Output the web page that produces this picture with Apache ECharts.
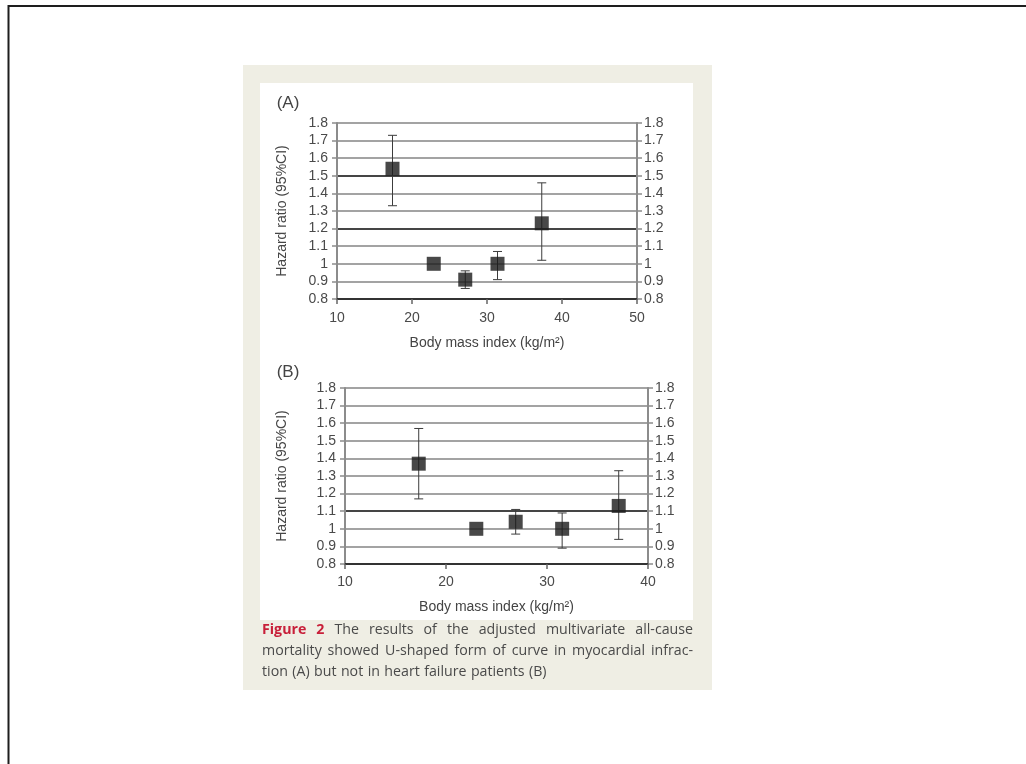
<!DOCTYPE html>
<html><head><meta charset="utf-8">
<script src="https://cdn.jsdelivr.net/npm/echarts@6/dist/echarts.min.js"></script>
<style>html,body{margin:0;padding:0;background:#fff}#c{width:1026px;height:764px}</style>
</head><body><div id="c"></div>
<script>
// ---- data ----
const xTicksA = [10, 50];           // min / max of BMI axis, panel A
const xTicksB = [10, 40];           // min / max of BMI axis, panel B
const yRange = [0.8, 1.8];          // hazard ratio axis
const bmiA = [17.4, 22.9, 27.1, 31.4, 37.3];
const hrA  = [1.54, 1.00, 0.91, 1.00, 1.23];
const loA  = [1.33, 1.00, 0.86, 0.91, 1.02];
const hiA  = [1.73, 1.00, 0.96, 1.07, 1.46];
const bmiB = [17.3, 23.0, 26.9, 31.5, 37.1];
const hrB  = [1.37, 1.00, 1.04, 1.00, 1.13];
const loB  = [1.17, 1.00, 0.97, 0.89, 0.94];
const hiB  = [1.57, 1.00, 1.11, 1.09, 1.33];
const panelLabels = ['(A)', '(B)'];
const xTitle = 'Body mass index (kg/m²)';
const yTitle = 'Hazard ratio (95%CI)';
const captionLines = [
  'Figure 2 The results of the adjusted multivariate all-cause',
  'mortality showed U-shaped form of curve in myocardial infrac-',
  'tion (A) but not in heart failure patients (B)'
];

// ---- styles ----
const FONT = '"Liberation Sans", Arial, sans-serif';
const CAPFONT = '"Open Sans", Lato, sans-serif';
const CAPSIZE = 14.2;
const GREY = '#a3a3a3', DARK = '#454545';
const splitA = [DARK, GREY, GREY, GREY, DARK, GREY, GREY, DARK, GREY, GREY, GREY];
const splitB = [DARK, GREY, GREY, DARK, GREY, GREY, GREY, GREY, GREY, GREY, GREY];

const chart = echarts.init(document.getElementById('c'), null, {renderer: 'canvas'});

function xAxisCfg(gridIndex, range) {
  return {
    type: 'value', gridIndex, min: range[0], max: range[1], interval: 10,
    name: xTitle, nameLocation: 'middle', nameGap: gridIndex === 0 ? 37 : 36,
    nameTextStyle: {fontFamily: FONT, fontSize: 14, color: '#444'},
    axisLine: {onZero: false, lineStyle: {color: '#333', width: 2}},
    axisTick: {show: true, length: 5, lineStyle: {color: '#666', width: 1.5}},
    axisLabel: {fontFamily: FONT, fontSize: 14, color: '#4a4a4a', margin: gridIndex === 0 ? 12 : 11},
    splitLine: {show: false}
  };
}
function yAxisCfg(gridIndex, pos, split) {
  const c = {
    type: 'value', gridIndex, position: pos, min: yRange[0], max: yRange[1], interval: 0.1,
    axisLine: {show: true, onZero: false, lineStyle: {color: '#8c8c8c', width: 2}},
    axisTick: {show: true, length: 5, lineStyle: {color: '#8c8c8c', width: 1.5}},
    axisLabel: {fontFamily: FONT, fontSize: 14, color: '#4a4a4a', margin: pos === 'left' ? 9 : 7},
    splitLine: split ? {show: true, lineStyle: {color: split, width: 2}} : {show: false}
  };
  if (pos === 'left') {
    c.name = yTitle; c.nameLocation = 'middle'; c.nameRotate = 90;
    c.nameGap = gridIndex === 0 ? 48 : 56;
    c.nameTextStyle = {fontFamily: FONT, fontSize: 14, color: '#464646'};
  }
  return c;
}

function errRender(params, api) {
  const x = api.value(0), lo = api.value(1), hi = api.value(2);
  if (lo === hi) return null;
  const a = api.coord([x, lo]), b = api.coord([x, hi]);
  const cap = 4.5;
  const style = {stroke: '#3c3c3c', lineWidth: 1};
  return {type: 'group', children: [
    {type: 'line', shape: {x1: a[0], y1: a[1], x2: b[0], y2: b[1]}, style},
    {type: 'line', shape: {x1: a[0] - cap, y1: a[1], x2: a[0] + cap, y2: a[1]}, style},
    {type: 'line', shape: {x1: b[0] - cap, y1: b[1], x2: b[0] + cap, y2: b[1]}, style}
  ]};
}

// ---- caption layout (justified) ----
const mctx = document.createElement('canvas').getContext('2d');
function fontStr(bold) { return (bold ? 'bold ' : '') + CAPSIZE + 'px ' + CAPFONT; }
function measure(t, bold) { mctx.font = fontStr(bold); return mctx.measureText(t).width; }
const capLeft = 262, capRight = 693, capTop = 630, capStep = 21;
const captionEls = [];
captionLines.forEach((line, li) => {
  const words = line.split(' ');
  const widths = words.map((w, wi) => measure(w, li === 0 && wi < 2));
  const total = widths.reduce((s, v) => s + v, 0);
  const justify = li < captionLines.length - 1;
  const gap = justify ? (capRight - capLeft - total) / (words.length - 1) : measure(' ', false) * 1.2;
  let x = capLeft;
  words.forEach((w, wi) => {
    const red = li === 0 && wi < 2;
    captionEls.push({
      type: 'text', x: x, y: capTop + li * capStep, z: 10,
      style: {text: w, fill: red ? '#c8203a' : '#4a4a4a', font: fontStr(red),
              textVerticalAlign: 'middle', textAlign: 'left'}
    });
    x += widths[wi] + gap;
  });
});

const option = {
  animation: false,
  backgroundColor: '#fff',
  graphic: [
    {type: 'rect', z: -100, shape: {x: 243, y: 65, width: 469, height: 625}, style: {fill: '#efeee4'}},
    {type: 'rect', z: -99, shape: {x: 260, y: 83, width: 433, height: 537}, style: {fill: '#ffffff'}},
    {type: 'line', z: 50, shape: {x1: 8, y1: 6, x2: 1026, y2: 6}, style: {stroke: '#1e1e1e', lineWidth: 2}},
    {type: 'line', z: 50, shape: {x1: 8.5, y1: 5, x2: 8.5, y2: 764}, style: {stroke: '#1e1e1e', lineWidth: 2}},
    {type: 'text', x: 288, y: 103, style: {text: panelLabels[0], font: '17px ' + FONT, fill: '#444', textAlign: 'center', textVerticalAlign: 'middle'}},
    {type: 'text', x: 288, y: 372, style: {text: panelLabels[1], font: '17px ' + FONT, fill: '#444', textAlign: 'center', textVerticalAlign: 'middle'}}
  ].concat(captionEls),
  grid: [
    {left: 337, top: 123, width: 300, height: 176},
    {left: 345, top: 388, width: 303, height: 176}
  ],
  xAxis: [xAxisCfg(0, xTicksA), xAxisCfg(1, xTicksB)],
  yAxis: [yAxisCfg(0, 'left', splitA), yAxisCfg(0, 'right', null), yAxisCfg(1, 'left', splitB), yAxisCfg(1, 'right', null)],
  series: [
    {type: 'custom', xAxisIndex: 0, yAxisIndex: 0, renderItem: errRender, z: 3,
     data: bmiA.map((x, i) => [x, loA[i], hiA[i]])},
    {type: 'scatter', xAxisIndex: 0, yAxisIndex: 0, symbol: 'rect', symbolSize: 14, z: 5,
     itemStyle: {color: '#1a1a1a'}, data: bmiA.map((x, i) => [x, hrA[i]])},
    {type: 'custom', xAxisIndex: 1, yAxisIndex: 2, renderItem: errRender, z: 3,
     data: bmiB.map((x, i) => [x, loB[i], hiB[i]])},
    {type: 'scatter', xAxisIndex: 1, yAxisIndex: 2, symbol: 'rect', symbolSize: 14, z: 5,
     itemStyle: {color: '#1a1a1a'}, data: bmiB.map((x, i) => [x, hrB[i]])}
  ]
};
chart.setOption(option);
</script></body></html>
